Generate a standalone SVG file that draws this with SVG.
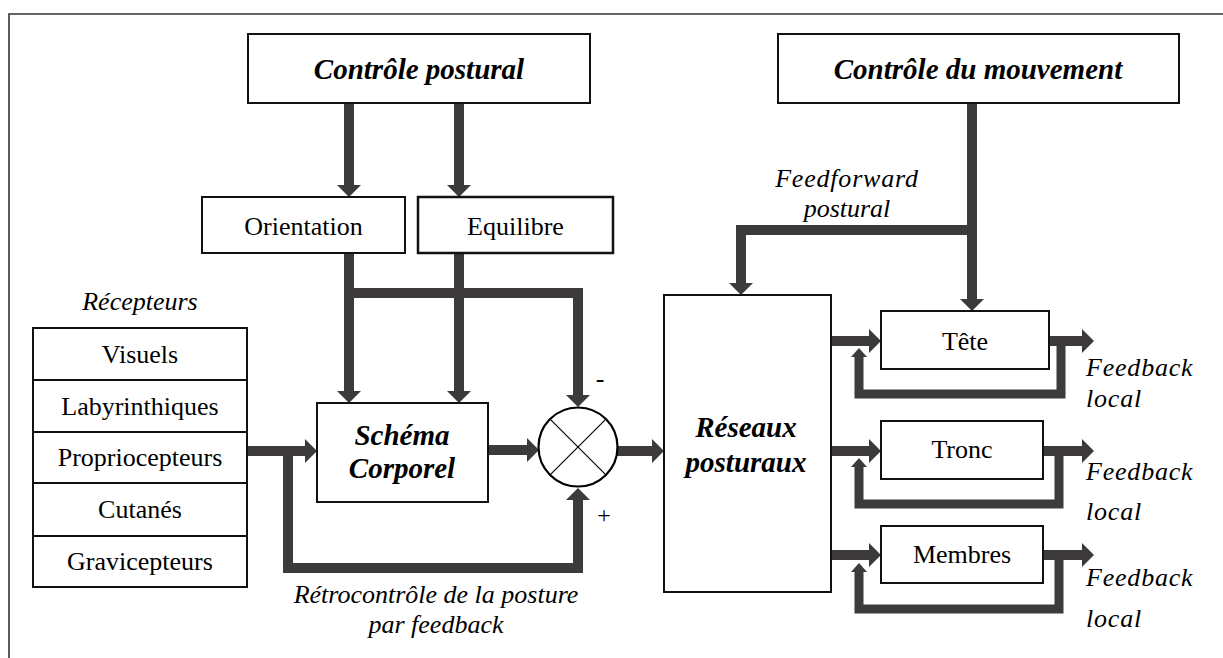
<svg xmlns="http://www.w3.org/2000/svg" width="1223" height="658" viewBox="0 0 1223 658">
<style>
.box{fill:#fff;stroke:#111;stroke-width:2}
.frame{fill:none;stroke:#333;stroke-width:1.6}
.bar{fill:none;stroke:#3c3a3a;stroke-width:10;stroke-linejoin:miter;stroke-linecap:butt}
.loop{fill:none;stroke:#3c3a3a;stroke-width:9;stroke-linejoin:miter;stroke-linecap:butt}
text{font-family:'Liberation Serif','Tinos','Times New Roman','DejaVu Serif',serif;fill:#000}
.t{text-anchor:middle}
.r{font-size:26px}
.i{font-size:26px;font-style:italic}
.bi{font-size:29px;font-style:italic;font-weight:bold}
.fb{font-size:26px;font-style:italic;letter-spacing:0.8px}
</style>
<defs>
<marker id="ah" markerUnits="userSpaceOnUse" viewBox="0 0 12 24" markerWidth="12" markerHeight="24" refX="0" refY="12" orient="auto" overflow="visible">
<path d="M0,0 L12,12 L0,24 Z" fill="#3c3a3a"/>
</marker>
<marker id="ahs" markerUnits="userSpaceOnUse" viewBox="0 0 9 16" markerWidth="9" markerHeight="16" refX="0" refY="8" orient="auto" overflow="visible">
<path d="M0,0 L9,8 L0,16 Z" fill="#3c3a3a"/>
</marker>
</defs>
<path class="frame" d="M9,660 V14 H1225"/>
<g id="connectors">
<path class="bar" d="M349,103 V185" marker-end="url(#ah)"/>
<path class="bar" d="M459,103 V185" marker-end="url(#ah)"/>
<path class="bar" d="M349,253 V391" marker-end="url(#ah)"/>
<path class="bar" d="M459,253 V391" marker-end="url(#ah)"/>
<path class="bar" d="M349,293 H578 V395" marker-end="url(#ah)"/>
<path class="bar" d="M247,451 H305" marker-end="url(#ah)"/>
<path class="bar" d="M288,451 V568 H578 V500" marker-end="url(#ah)"/>
<path class="bar" d="M488,450 H527" marker-end="url(#ah)"/>
<path class="bar" d="M617,451 H652" marker-end="url(#ah)"/>
<path class="bar" d="M972,103 V299" marker-end="url(#ah)"/>
<path class="bar" d="M977,230 H741 V283" marker-end="url(#ah)"/>
<path class="bar" d="M831,341 H869" marker-end="url(#ah)"/>
<path class="bar" d="M1049,341 H1082" marker-end="url(#ah)"/>
<path class="loop" d="M1061,341 V394 H859 V357" marker-end="url(#ahs)"/>
<path class="bar" d="M831,451 H869" marker-end="url(#ah)"/>
<path class="bar" d="M1043,451 H1082" marker-end="url(#ah)"/>
<path class="loop" d="M1059,451 V504 H859 V467" marker-end="url(#ahs)"/>
<path class="bar" d="M831,555 H869" marker-end="url(#ah)"/>
<path class="bar" d="M1043,555 H1082" marker-end="url(#ah)"/>
<path class="loop" d="M1059,555 V609 H859 V572" marker-end="url(#ahs)"/>
</g>
<g id="ctrl-postural">
<rect class="box" x="248" y="34" width="342" height="69"/>
<text class="t bi" x="419" y="79">Contrôle postural</text>
</g>
<g id="ctrl-mouvement">
<rect class="box" x="778" y="34" width="401" height="69"/>
<text class="t bi" x="978" y="79">Contrôle du mouvement</text>
</g>
<g id="orientation">
<rect class="box" x="202" y="197" width="203" height="56"/>
<text class="t r" x="303.5" y="235">Orientation</text>
</g>
<g id="equilibre">
<rect class="box" x="418" y="197" width="195" height="56" style="stroke-width:2.5"/>
<text class="t r" x="515.5" y="235">Equilibre</text>
</g>
<g id="recepteurs">
<text class="t i" x="140" y="310">Récepteurs</text>
<rect class="box" x="33" y="328" width="214" height="259"/>
<path d="M33,380 H247 M33,432 H247 M33,483 H247 M33,536 H247" stroke="#111" stroke-width="2"/>
<text class="t r" x="140" y="363">Visuels</text>
<text class="t r" x="140" y="415">Labyrinthiques</text>
<text class="t r" x="140" y="466">Propriocepteurs</text>
<text class="t r" x="140" y="518">Cutanés</text>
<text class="t r" x="140" y="570">Gravicepteurs</text>
</g>
<g id="schema">
<rect class="box" x="317" y="403" width="171" height="99"/>
<text class="t bi" x="402" y="445">Schéma</text>
<text class="t bi" x="402" y="478">Corporel</text>
</g>
<g id="comparateur">
<circle cx="578" cy="447" r="39.5" fill="#fff" stroke="#000" stroke-width="2.2"/>
<path d="M550.1,419.1 L605.9,474.9 M550.1,474.9 L605.9,419.1" stroke="#000" stroke-width="1.2"/>
<text class="t r" x="600" y="387">-</text>
<text class="t" x="604" y="523" style="font-size:24px">+</text>
</g>
<g id="retrocontrole">
<text class="t i" x="436" y="603">Rétrocontrôle de la posture</text>
<text class="t i" x="436" y="633">par feedback</text>
</g>
<g id="feedforward">
<text class="t i" x="847" y="187" style="letter-spacing:0.8px">Feedforward</text>
<text class="t i" x="847" y="217">postural</text>
</g>
<g id="reseaux">
<rect class="box" x="664" y="295" width="167" height="297"/>
<text class="t bi" x="746" y="437">Réseaux</text>
<text class="t bi" x="746" y="472">posturaux</text>
</g>
<g id="tete">
<rect class="box" x="881" y="311" width="168" height="58"/>
<text class="t r" x="965" y="350">Tête</text>
</g>
<g id="tronc">
<rect class="box" x="881" y="421" width="162" height="58"/>
<text class="t r" x="962" y="458">Tronc</text>
</g>
<g id="membres">
<rect class="box" x="881" y="526" width="162" height="57"/>
<text class="t r" x="962" y="563">Membres</text>
</g>
<g id="feedback-labels">
<text class="fb" x="1086" y="376">Feedback</text>
<text class="fb" x="1086" y="407">local</text>
<text class="fb" x="1086" y="480">Feedback</text>
<text class="fb" x="1086" y="520">local</text>
<text class="fb" x="1086" y="586">Feedback</text>
<text class="fb" x="1086" y="627">local</text>
</g>
</svg>
